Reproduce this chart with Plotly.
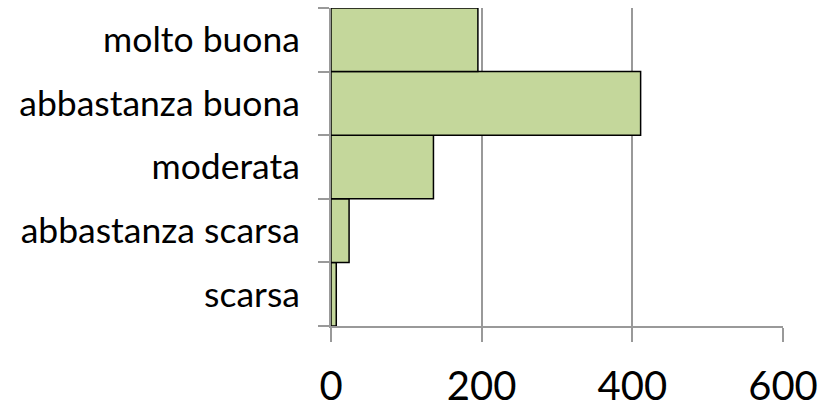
import plotly.graph_objects as go

categories = ["scarsa", "abbastanza scarsa", "moderata", "abbastanza buona", "molto buona"]
values = [7, 24, 136, 411, 195]
x_ticks = [0, 200, 400, 600]

fig = go.Figure(go.Bar(
    y=categories, x=values, orientation="h",
    marker=dict(color="#C4D79B", line=dict(color="#000000", width=1.5)),
    hoverinfo="skip",
))

fig.update_layout(
    width=838, height=409,
    margin=dict(l=331, r=55, t=8, b=83),
    paper_bgcolor="white", plot_bgcolor="white",
    bargap=0, showlegend=False,
    font=dict(family="Lato, Liberation Sans, sans-serif", color="black"),
)
fig.update_xaxes(
    range=[0, 600], tickvals=x_ticks, ticktext=[str(v) for v in x_ticks],
    showgrid=True, gridcolor="#999999", gridwidth=2,
    showline=True, linecolor="#999999", linewidth=2,
    ticks="outside", ticklen=14, tickcolor="#999999", tickwidth=2,
    tickfont=dict(size=40), ticklabelstandoff=10, zeroline=False,
    automargin=False,
)
fig.update_yaxes(
    categoryorder="array", categoryarray=categories,
    showgrid=False, showline=True, linecolor="#999999", linewidth=2,
    ticks="outside", ticklen=11, tickcolor="#999999", tickwidth=2,
    tickson="boundaries", tickfont=dict(size=35.5), ticklabelstandoff=22,
    automargin=False,
)

fig.write_html(
    "out.html",
    config={"displayModeBar": False, "staticPlot": True},
    post_script="document.body.style.margin='0';document.body.style.overflow='hidden';",
)
